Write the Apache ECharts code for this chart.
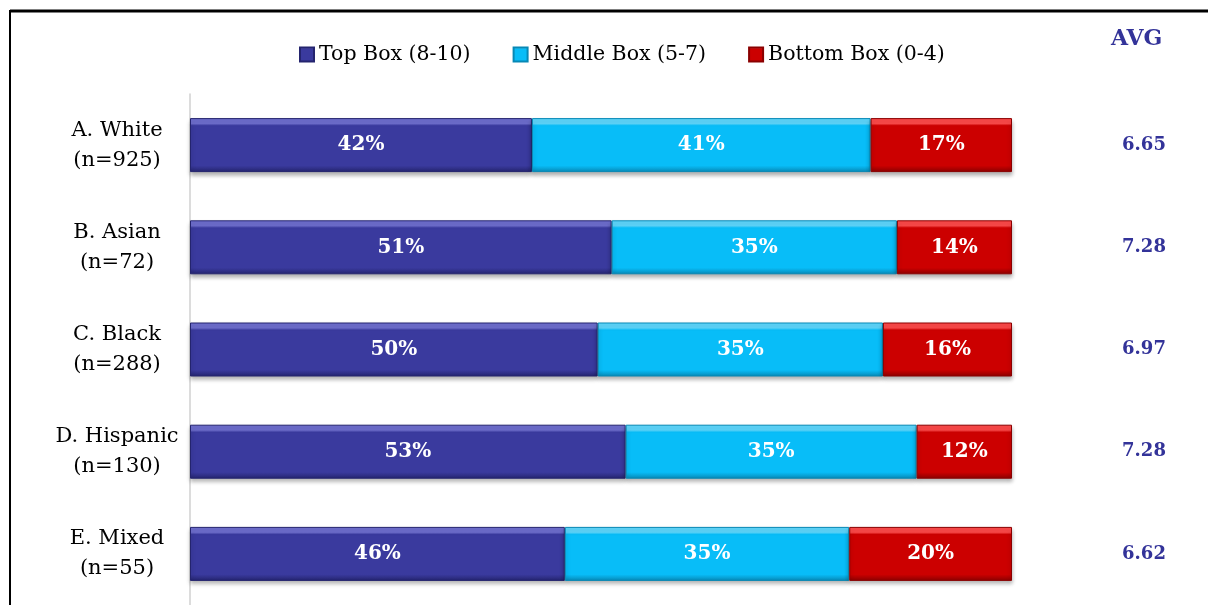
<!DOCTYPE html>
<html>
<head>
<meta charset="utf-8">
<script src="https://cdn.jsdelivr.net/npm/echarts@6/dist/echarts.min.js"></script>
<style>
  html, body { margin: 0; padding: 0; background: #fff; }
  #chart { width: 1208px; height: 605px; }
</style>
</head>
<body>
<div id="chart"></div>
<script>
// categories (top to bottom)
const categories = ['A. White\n(n=925)', 'B. Asian\n(n=72)', 'C. Black\n(n=288)', 'D. Hispanic\n(n=130)', 'E. Mixed\n(n=55)'];
// shares in % (labels show rounded values)
const topBox = [41.6, 51.3, 49.6, 53.0, 45.6];
const middleBox = [41.2, 34.7, 34.7, 35.4, 34.6];
const bottomBox = [17.2, 14.0, 15.7, 11.6, 19.8];
const avgScores = ['6.65', '7.28', '6.97', '7.28', '6.62'];

const FONT = '"DejaVu Serif", "Liberation Serif", serif';

// bevelled look: light top edge, darker bottom edge
function bevel(light, main, dark) {
    return new echarts.graphic.LinearGradient(0, 0, 0, 1, [
        { offset: 0, color: light },
        { offset: 0.1, color: light },
        { offset: 0.14, color: main },
        { offset: 0.88, color: main },
        { offset: 1, color: dark }
    ]);
}

const chart = echarts.init(document.getElementById('chart'));

function barSeries(name, data, colors) {
    return {
        name: name,
        type: 'bar',
        stack: 'total',
        barWidth: 54,
        data: data,
        itemStyle: {
            color: bevel(colors[0], colors[1], colors[2]),
            borderColor: colors[2],
            borderWidth: 1,
            shadowColor: 'rgba(0,0,0,0.3)',
            shadowBlur: 4,
            shadowOffsetY: 3
        },
        label: {
            show: true,
            position: 'inside',
            color: '#fff',
            fontFamily: FONT,
            fontWeight: 'bold',
            fontSize: 20,
            formatter: p => Math.round(p.value) + '%'
        }
    };
}

const option = {
    animation: false,
    color: ['#3a3a9e', '#08bdf8', '#cc0000'],
    legend: {
        top: 39,
        left: 294,
        itemWidth: 14,
        itemHeight: 14,
        itemGap: 42,
        icon: 'rect',
        textStyle: { fontFamily: FONT, fontSize: 20.5, color: '#000' },
        data: ['Top Box (8-10)', 'Middle Box (5-7)', 'Bottom Box (0-4)']
    },
    grid: { left: 190, right: 196, top: 94, height: 515 },
    xAxis: {
        type: 'value',
        min: 0,
        max: 100,
        show: false
    },
    yAxis: [
        {
            type: 'category',
            inverse: true,
            data: categories,
            axisLine: { show: true, lineStyle: { color: '#d0d0d0', width: 1.5 } },
            axisTick: { show: false },
            axisLabel: {
                color: '#000',
                fontFamily: FONT,
                fontSize: 21,
                lineHeight: 30,
                align: 'center',
                margin: 73
            }
        },
        {
            type: 'category',
            inverse: true,
            position: 'right',
            data: avgScores,
            axisLine: { show: false },
            axisTick: { show: false },
            axisLabel: {
                color: '#333399',
                fontFamily: FONT,
                fontWeight: 'bold',
                fontSize: 18,
                align: 'center',
                margin: 132
            }
        }
    ],
    graphic: [
        { type: 'line', shape: { x1: 10, y1: 11, x2: 1208, y2: 11 }, style: { stroke: '#000', lineWidth: 3 } },
        { type: 'line', shape: { x1: 10, y1: 10, x2: 10, y2: 605 }, style: { stroke: '#000', lineWidth: 2 } },
        {
            type: 'text', left: 1111, top: 28,
            style: { text: 'AVG', fill: '#333399', font: 'bold 22px ' + FONT }
        }
    ],
    series: [
        barSeries('Top Box (8-10)', topBox, ['#6f6fd0', '#3a3a9e', '#24246e']),
        barSeries('Middle Box (5-7)', middleBox, ['#5fd9ff', '#08bdf8', '#0788b5']),
        barSeries('Bottom Box (0-4)', bottomBox, ['#ff4a4a', '#cc0000', '#8a0000'])
    ]
};

chart.setOption(option);
</script>
</body>
</html>
